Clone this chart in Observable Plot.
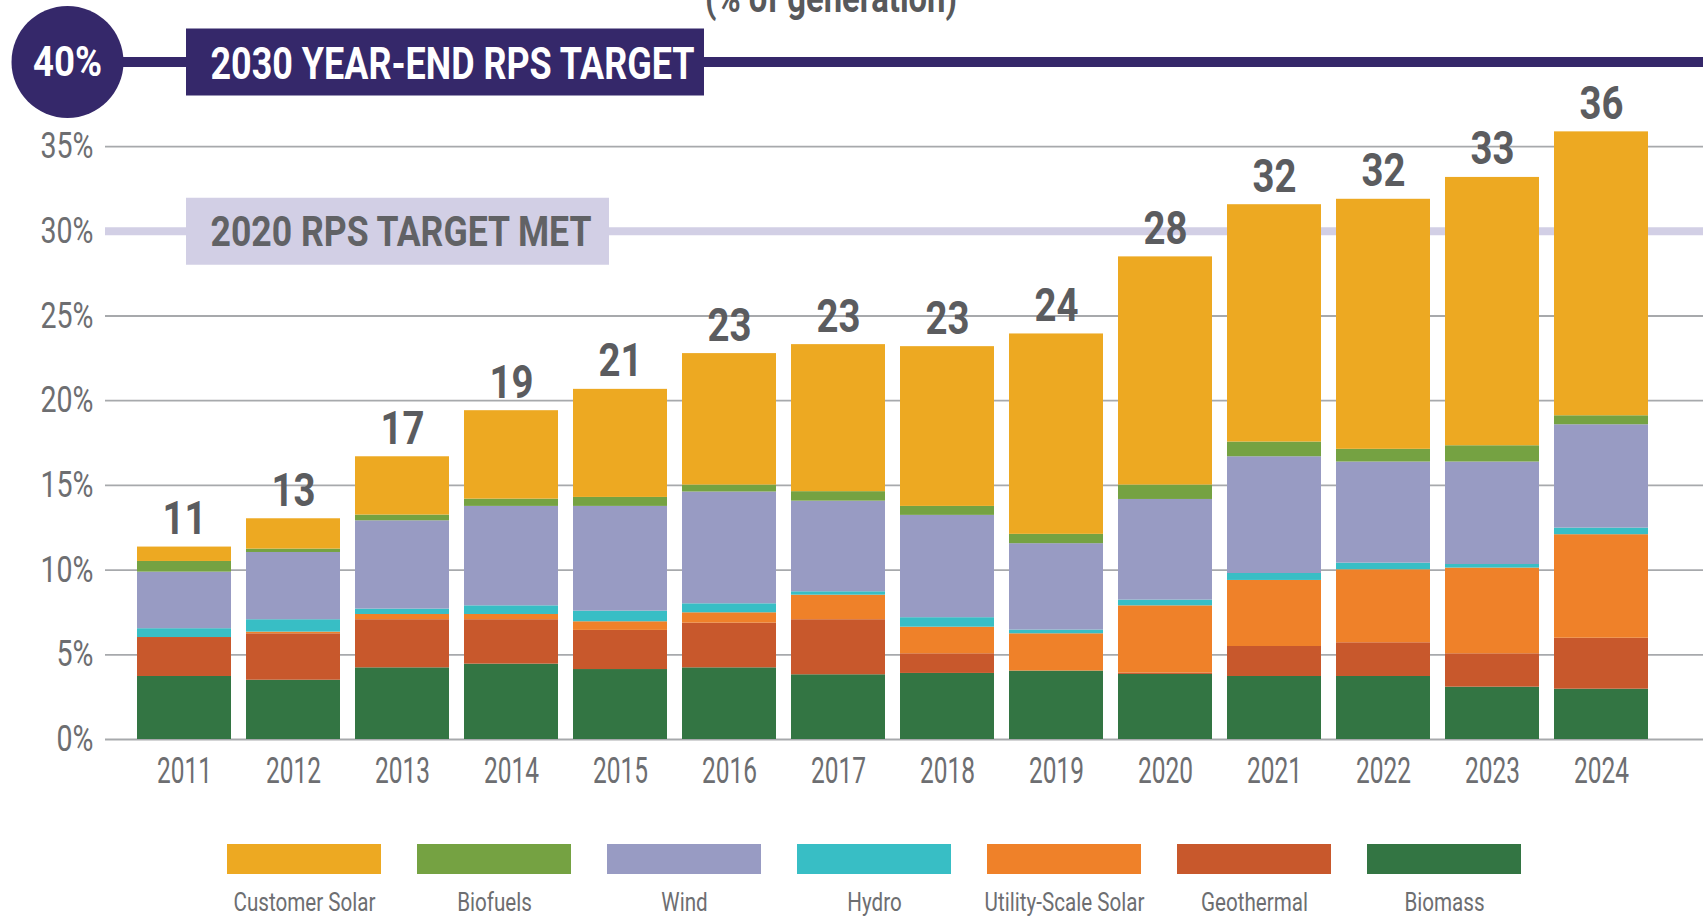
<!DOCTYPE html>
<html>
<head>
<meta charset="utf-8">
<script src="https://cdn.jsdelivr.net/npm/d3@7"></script>
<script src="https://cdn.jsdelivr.net/npm/@observablehq/plot@0.6"></script>
<style>
  html, body { margin: 0; padding: 0; background: #ffffff; }
  #wrap { position: relative; width: 1703px; height: 916px; overflow: hidden; font-family: Roboto, sans-serif; }
  #chart { position: absolute; left: 0; top: 0; }
  #legend { position: absolute; left: 0; top: 844px; }
  #title { position: absolute; left: 705px; top: -21px; white-space: nowrap; font: bold 40px/40px Roboto, sans-serif; color: #58595b; transform-origin: 0 0; }
</style>
</head>
<body>
<div id="wrap">
  <div id="chart"></div>
  <div id="legend"></div>
  <span id="title">(% of generation)</span>
</div>
<script>
// ---- data (share of generation, %) ----
const years = ["2011","2012","2013","2014","2015","2016","2017","2018","2019","2020","2021","2022","2023","2024"];
const sources = ["Customer Solar","Biofuels","Wind","Hydro","Utility-Scale Solar","Geothermal","Biomass"];
const sourceColors = ["#EDA922","#75A242","#989BC3","#38BEC5","#EF8129","#C8582C","#337543"];

const biomass       = [3.72,3.50,4.23,4.45,4.13,4.23,3.82,3.90,4.04,3.84,3.72,3.72,3.09,2.97];
const geothermal    = [2.30,2.74,2.84,2.62,2.31,2.64,3.25,1.16,0.00,0.08,1.77,1.99,1.97,3.01];
const utilitySolar  = [0.00,0.10,0.31,0.31,0.51,0.61,1.45,1.57,2.20,3.97,3.90,4.31,5.06,6.11];
const hydro         = [0.52,0.73,0.32,0.51,0.63,0.53,0.20,0.56,0.22,0.34,0.41,0.39,0.21,0.39];
const wind          = [3.34,3.97,5.21,5.87,6.18,6.60,5.35,6.04,5.10,5.94,6.89,5.97,6.05,6.10];
const biofuels      = [0.63,0.20,0.34,0.43,0.53,0.41,0.56,0.53,0.55,0.85,0.87,0.75,0.96,0.53];
const customerSolar = [0.85,1.79,3.44,5.22,6.38,7.76,8.68,9.43,11.83,13.47,14.01,14.76,15.84,16.76];

const totalLabels = [11,13,17,19,21,23,23,23,24,28,32,32,33,36];
const yTicks = [0,5,10,15,20,25,30,35];
const gridTicks = [0,5,10,15,20,25,35];
const target2030 = 40;
const target2020 = 30;
const target2030Label = "2030 YEAR-END RPS TARGET";
const target2020Label = "2020 RPS TARGET MET";

// ---- build table (bottom-to-top stacking order) ----
const stackOrder = [
  ["Biomass", biomass],
  ["Geothermal", geothermal],
  ["Utility-Scale Solar", utilitySolar],
  ["Hydro", hydro],
  ["Wind", wind],
  ["Biofuels", biofuels],
  ["Customer Solar", customerSolar]
];
const rows = [];
for (const [name, vals] of stackOrder) {
  years.forEach((yr, i) => rows.push({year: yr, source: name, value: vals[i]}));
}
const totals = years.map((yr, i) => ({
  year: yr,
  total: stackOrder.reduce((s, [, v]) => s + v[i], 0),
  label: String(totalLabels[i])
}));

const PURPLE = "#35286A";
const LILAC = "#D2CFE5";
const GRID = "#a7a9ac";
const TXT = "#6d6e71";

const chart = Plot.plot({
  width: 1703,
  height: 800,
  marginLeft: 105,
  marginRight: 0,
  marginTop: 0,
  marginBottom: 61,
  style: {fontFamily: "Roboto, sans-serif", background: "transparent"},
  x: {domain: years, range: [120.8, 1664.8], padding: 0.139, label: null},
  y: {domain: [0, 40], range: [739, 61.4], label: null},
  color: {domain: sources, range: sourceColors},
  marks: [
    Plot.ruleY(gridTicks, {stroke: GRID, strokeWidth: 1.8}),
    Plot.ruleY([target2020], {stroke: LILAC, strokeWidth: 8}),
    Plot.ruleY([target2020], {stroke: LILAC, strokeWidth: 67, insetLeft: 81, insetRight: 1094}),
    Plot.ruleY([target2030], {stroke: PURPLE, strokeWidth: 10, insetLeft: -38}),
    Plot.ruleY([target2030], {stroke: PURPLE, strokeWidth: 67, insetLeft: 81, insetRight: 999}),
    Plot.dot([target2030], {y: d => d, frameAnchor: "left", dx: -38, r: 56, fill: PURPLE, stroke: null}),
    Plot.text([target2030], {y: d => d, text: d => d + "%", frameAnchor: "left", dx: -38, dy: 1,
      textAnchor: "middle", fill: "white", fontSize: 42, fontWeight: "bold"}),
    Plot.text([target2030], {y: d => d, text: () => target2030Label, frameAnchor: "left", dx: 105, dy: 3,
      textAnchor: "start", fill: "white", fontSize: 44, fontWeight: "bold"}),
    Plot.text([target2020], {y: d => d, text: () => target2020Label, frameAnchor: "left", dx: 105, dy: 1,
      textAnchor: "start", fill: "#616265", fontSize: 43, fontWeight: "bold"}),
    Plot.barY(rows, {x: "year", y: "value", fill: "source"}),
    Plot.text(totals, {x: "year", y: "total", text: "label", lineAnchor: "bottom", dy: -13,
      fontSize: 47, fontWeight: "bold", fill: "#5b5c5f"}),
    Plot.axisY({ticks: yTicks, tickFormat: d => d + "%", tickSize: 0, tickPadding: 12,
      fontSize: 36, color: TXT, label: null}),
    Plot.axisX({tickSize: 0, tickPadding: 18, fontSize: 36, color: TXT, label: null})
  ]
});
document.getElementById("chart").appendChild(chart);

const legend = Plot.plot({
  width: 1703,
  height: 72,
  marginLeft: 0, marginRight: 0, marginTop: 0, marginBottom: 42,
  style: {fontFamily: "Roboto, sans-serif", background: "transparent"},
  x: {domain: sources, range: [188.5, 1558.5], padding: 0.1916, axis: null},
  color: {domain: sources, range: sourceColors},
  marks: [
    Plot.cell(sources, {x: d => d, fill: d => d}),
    Plot.text(sources, {x: d => d, text: d => d, frameAnchor: "bottom", lineAnchor: "bottom", dy: 36,
      fontSize: 25, fill: TXT})
  ]
});
document.getElementById("legend").appendChild(legend);

// ---- condensed-font emulation ----
function fit(el, w) { el.setAttribute("textLength", w); el.setAttribute("lengthAdjust", "spacingAndGlyphs"); }
function condenseGroup(nodes, refText, refWidth) {
  nodes = Array.from(nodes || []);
  if (!nodes.length) return;
  const ref = nodes.find(n => n.textContent === refText) || nodes[0];
  const f = refWidth / ref.getComputedTextLength();
  const widths = nodes.map(n => n.getComputedTextLength() * f);
  nodes.forEach((n, i) => fit(n, widths[i]));
}
const textGroups = Array.from(chart.querySelectorAll('g[aria-label="text"]'));
condenseGroup(chart.querySelectorAll('g[aria-label="y-axis tick label"] text'), "35%", 53);
condenseGroup(chart.querySelectorAll('g[aria-label="x-axis tick label"] text'), "2011", 55);
condenseGroup(textGroups[0] && textGroups[0].querySelectorAll("text"), "40%", 69);
condenseGroup(textGroups[1] && textGroups[1].querySelectorAll("text"), target2030Label, 484);
condenseGroup(textGroups[2] && textGroups[2].querySelectorAll("text"), target2020Label, 381);
condenseGroup(textGroups[3] && textGroups[3].querySelectorAll("text"), "36", 44);
condenseGroup(legend.querySelectorAll('g[aria-label="text"] text'), "Customer Solar", 142);

const title = document.getElementById("title");
title.style.transform = `scaleX(${252 / title.getBoundingClientRect().width})`;
</script>
</body>
</html>
